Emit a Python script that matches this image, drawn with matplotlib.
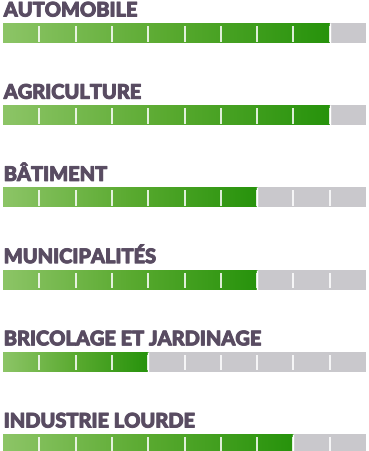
import matplotlib
matplotlib.use("Agg")
import matplotlib.pyplot as plt
import matplotlib.patheffects as pe
import numpy as np
from matplotlib.colors import LinearSegmentedColormap

categories = ["AUTOMOBILE", "AGRICULTURE", "BÂTIMENT", "MUNICIPALITÉS",
              "BRICOLAGE ET JARDINAGE", "INDUSTRIE LOURDE"]
scores = [9, 9, 7, 7, 4, 8]
max_score = 10

W, H = 369, 452
row_px = 82.2
bar_px = 20
bar_h = bar_px / row_px
first_center_px = 34

fig = plt.figure(figsize=(W / 100, H / 100), dpi=100)
ax = fig.add_axes([3 / W, 0, 363 / W, 1])
ax.set_xlim(0, max_score)
ax.set_ylim((H - first_center_px) / row_px, -first_center_px / row_px)
ax.axis("off")

cmap = LinearSegmentedColormap.from_list("g", ["#8dc567", "#5aaa30", "#27930c"])
grad = np.linspace(0, 1, 256).reshape(1, -1)
px = 1 / row_px
txt_color = "#594c62"

for i, (cat, v) in enumerate(zip(categories, scores)):
    top = i - bar_h / 2
    bot = i + bar_h / 2
    ax.barh(i, max_score - v, left=v, height=bar_h, color="#c9c8cc", linewidth=0)
    ax.imshow(grad, cmap=cmap, extent=(0, v, bot, top), aspect="auto",
              interpolation="bilinear", zorder=2)
    ax.vlines(v, top, bot, color="white", linewidth=1.0, zorder=3)
    ax.vlines(np.arange(1, max_score), top + 3 * px, bot - 1.5 * px,
              color="white", linewidth=1.2, zorder=3)
    ax.text(0.02, top - 6.5 * px, cat, fontsize=14.4, fontweight="black",
            family=["Lato", "DejaVu Sans"], color=txt_color, va="baseline", ha="left",
            path_effects=[pe.withStroke(linewidth=0.7, foreground=txt_color)])

fig.savefig("out.png", dpi=100)
